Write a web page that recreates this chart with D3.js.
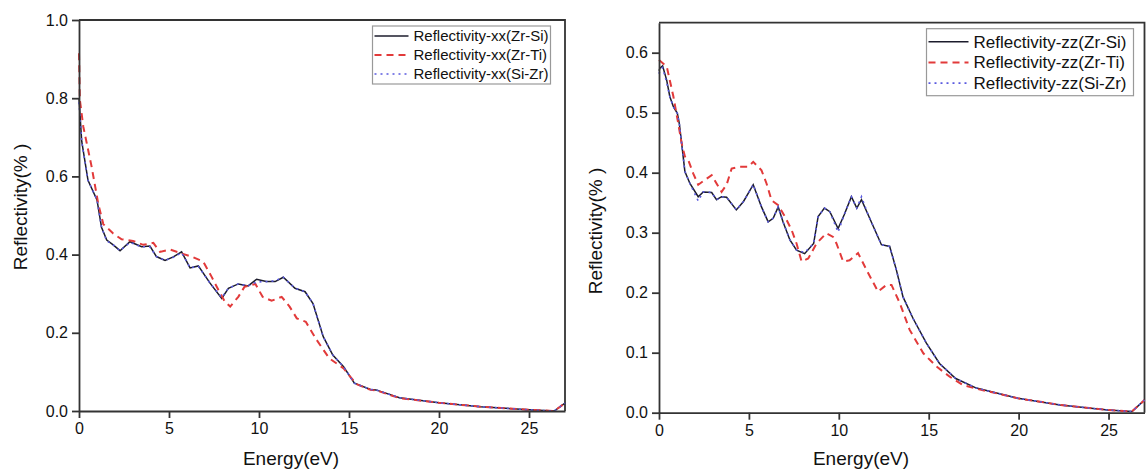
<!DOCTYPE html>
<html>
<head>
<meta charset="utf-8">
<script src="https://cdn.jsdelivr.net/npm/d3@7"></script>
<style>
  body { margin: 0; background: #fff; }
  svg { display: block; font-family: Arial, "Liberation Sans", sans-serif; }
</style>
</head>
<body>
<svg class="chart"></svg>
<script>
var width = 1146;
var height = 471;

// ---- data: reflectivity xx (left panel) ----
var xxZrSiE = [0, 0.15, 0.5, 1.0, 1.25, 1.54, 1.9, 2.28, 2.83, 3.48, 3.94, 4.3, 4.78, 5.24, 5.7, 6.17, 6.63, 7.28, 7.93, 8.3, 8.85, 9.4, 9.87, 10.4, 10.9, 11.35, 12.0, 12.56, 13.0, 13.57, 14.1, 14.7, 15.3, 16.2, 16.5, 17.8, 20, 22.3, 25, 26.4, 27];
var xxZrSiR = [0.80, 0.69, 0.59, 0.54, 0.47, 0.437, 0.425, 0.41, 0.433, 0.42, 0.422, 0.395, 0.385, 0.394, 0.407, 0.366, 0.371, 0.327, 0.288, 0.314, 0.325, 0.32, 0.337, 0.331, 0.331, 0.342, 0.314, 0.305, 0.275, 0.19, 0.143, 0.113, 0.071, 0.055, 0.054, 0.034, 0.021, 0.011, 0.003, 0.0, 0.02];

var xxZrTiE = [0, 0.05, 0.24, 0.7, 1.07, 1.35, 1.9, 2.37, 3.0, 3.57, 4.13, 4.5, 5.06, 5.7, 6.35, 6.9, 7.37, 7.74, 8.1, 8.4, 8.85, 9.2, 9.8, 10.2, 10.7, 11.26, 11.7, 12.1, 12.6, 13.2, 13.9, 14.7, 15.4, 16.2, 16.5, 17.8, 20, 22.3, 25, 26.4, 27];
var xxZrTiR = [0.915, 0.795, 0.727, 0.625, 0.53, 0.478, 0.454, 0.439, 0.435, 0.425, 0.43, 0.407, 0.413, 0.403, 0.393, 0.382, 0.343, 0.31, 0.28, 0.267, 0.292, 0.318, 0.325, 0.292, 0.282, 0.292, 0.267, 0.237, 0.228, 0.182, 0.135, 0.109, 0.069, 0.054, 0.053, 0.033, 0.021, 0.011, 0.003, 0.0, 0.02];

var xxSiZrE = [0, 0.15, 0.5, 1.0, 1.25, 1.54, 1.9, 2.28, 2.83, 3.48, 3.94, 4.3, 4.78, 5.24, 5.7, 6.17, 6.63, 7.28, 7.93, 8.3, 8.85, 9.4, 9.87, 10.4, 10.9, 11.35, 12.0, 12.56, 13.0, 13.57, 14.1, 14.7, 15.3, 16.2, 16.5, 17.8, 20, 22.3, 25, 26.4, 27];
var xxSiZrR = [0.79, 0.69, 0.59, 0.54, 0.47, 0.435, 0.425, 0.41, 0.431, 0.42, 0.42, 0.395, 0.385, 0.393, 0.405, 0.366, 0.37, 0.327, 0.29, 0.314, 0.325, 0.32, 0.33, 0.331, 0.333, 0.342, 0.314, 0.305, 0.275, 0.19, 0.143, 0.113, 0.071, 0.055, 0.054, 0.034, 0.021, 0.011, 0.003, 0.0, 0.02];

// ---- data: reflectivity zz (right panel) ----
var zzZrSiE = [0, 0.05, 0.2, 0.43, 0.6, 0.8, 1.02, 1.13, 1.26, 1.44, 1.72, 2.18, 2.46, 2.93, 3.2, 3.48, 3.76, 4.3, 4.7, 5.24, 5.7, 6.07, 6.35, 6.63, 6.9, 7.28, 7.65, 8.1, 8.6, 8.85, 9.2, 9.5, 9.96, 10.3, 10.7, 11.0, 11.26, 11.63, 12.0, 12.37, 12.83, 13.2, 13.57, 14.13, 14.87, 15.6, 16.5, 17.65, 19.96, 22.3, 24.96, 26.3, 27];
var zzZrSiR = [0.57, 0.574, 0.578, 0.554, 0.527, 0.51, 0.499, 0.482, 0.449, 0.402, 0.382, 0.36, 0.368, 0.367, 0.355, 0.36, 0.359, 0.338, 0.352, 0.38, 0.343, 0.318, 0.324, 0.343, 0.318, 0.288, 0.271, 0.265, 0.282, 0.327, 0.341, 0.335, 0.307, 0.33, 0.36, 0.341, 0.355, 0.33, 0.305, 0.28, 0.277, 0.238, 0.193, 0.157, 0.116, 0.082, 0.057, 0.041, 0.024, 0.013, 0.0045, 0.002, 0.021];

var zzZrTiE = [0, 0.43, 0.8, 1.07, 1.26, 1.44, 1.63, 1.9, 2.18, 2.56, 2.93, 3.2, 3.48, 3.76, 4.04, 4.5, 4.96, 5.24, 5.7, 5.98, 6.26, 6.63, 7.0, 7.37, 7.65, 7.93, 8.3, 8.76, 9.3, 9.68, 9.87, 10.24, 10.6, 11.07, 11.54, 12.18, 12.65, 12.93, 13.4, 13.94, 14.7, 15.43, 16.17, 16.9, 17.65, 19.96, 22.3, 24.96, 26.3, 27];
var zzZrTiR = [0.588, 0.577, 0.527, 0.482, 0.449, 0.427, 0.421, 0.399, 0.38, 0.388, 0.396, 0.382, 0.368, 0.38, 0.407, 0.41, 0.41, 0.418, 0.404, 0.382, 0.354, 0.346, 0.327, 0.305, 0.282, 0.252, 0.257, 0.282, 0.299, 0.293, 0.282, 0.252, 0.254, 0.266, 0.238, 0.202, 0.213, 0.213, 0.182, 0.138, 0.099, 0.077, 0.06, 0.046, 0.04, 0.024, 0.013, 0.0045, 0.002, 0.021];

var zzSiZrE = [0, 0.05, 0.2, 0.43, 0.6, 0.8, 1.02, 1.13, 1.26, 1.44, 1.72, 2.18, 2.46, 2.93, 3.2, 3.48, 3.76, 4.3, 4.7, 5.24, 5.7, 6.07, 6.35, 6.63, 6.9, 7.28, 7.65, 8.1, 8.6, 8.85, 9.2, 9.5, 9.96, 10.3, 10.7, 11.0, 11.26, 11.63, 12.0, 12.37, 12.83, 13.2, 13.57, 14.13, 14.87, 15.6, 16.5, 17.65, 19.96, 22.3, 24.96, 26.3, 27];
var zzSiZrR = [0.565, 0.57, 0.575, 0.55, 0.527, 0.51, 0.499, 0.482, 0.449, 0.402, 0.382, 0.353, 0.368, 0.367, 0.355, 0.36, 0.359, 0.338, 0.352, 0.38, 0.343, 0.318, 0.324, 0.343, 0.318, 0.288, 0.271, 0.267, 0.282, 0.327, 0.341, 0.335, 0.301, 0.33, 0.36, 0.341, 0.36, 0.33, 0.305, 0.28, 0.277, 0.238, 0.193, 0.157, 0.116, 0.082, 0.057, 0.041, 0.024, 0.013, 0.0045, 0.002, 0.021];

var xTicks = [0, 5, 10, 15, 20, 25];
var xxTicks = [0.0, 0.2, 0.4, 0.6, 0.8, 1.0];
var zzTicks = [0.0, 0.1, 0.2, 0.3, 0.4, 0.5, 0.6];
var xxNames = ['Reflectivity-xx(Zr-Si)', 'Reflectivity-xx(Zr-Ti)', 'Reflectivity-xx(Si-Zr)'];
var zzNames = ['Reflectivity-zz(Zr-Si)', 'Reflectivity-zz(Zr-Ti)', 'Reflectivity-zz(Si-Zr)'];

var styles = [
  {color: '#1c1c2c', dash: null, w: 1.5},
  {color: '#e23a3a', dash: '7,5', w: 2},
  {color: '#5a5ae0', dash: '2,4', w: 1.6}
];

var chart = d3.select('.chart').attr('width', width).attr('height', height);

var zip = function(es, rs){
  return es.map(function(e, i){ return {e: e, r: rs[i]}; });
};

var drawPanel = function(p){
  var x = d3.scaleLinear().domain([0, 27]).range([p.left, p.right]);
  var y = d3.scaleLinear().domain([0, p.ymax]).range([p.bottom, p.top]);
  var g = chart.append('g');

  // frame (top + right)
  g.append('path')
    .attr('d', 'M' + x(0) + ',' + y(p.ymax) + 'H' + x(27) + 'V' + y(0))
    .attr('fill', 'none').attr('stroke', '#333').attr('stroke-width', 1.8);

  var line = d3.line()
    .x(function(d){ return x(d.e); })
    .y(function(d){ return y(d.r); });

  p.series.forEach(function(s, i){
    g.append('path')
      .datum(zip(s[0], s[1]))
      .attr('d', line)
      .attr('fill', 'none')
      .attr('stroke', styles[i].color)
      .attr('stroke-width', styles[i].w)
      .attr('stroke-dasharray', styles[i].dash);
  });

  // axes
  var ax = g.append('g')
    .attr('transform', 'translate(0,' + y(0) + ')')
    .call(d3.axisBottom(x).tickValues(xTicks).tickSize(7).tickSizeOuter(0).tickPadding(5));
  var ay = g.append('g')
    .attr('transform', 'translate(' + x(0) + ',0)')
    .call(d3.axisLeft(y).tickValues(p.ticks).tickFormat(d3.format('.1f')).tickSize(7).tickSizeOuter(0).tickPadding(4));
  [ax, ay].forEach(function(a){
    a.selectAll('path, line').attr('stroke', '#333').attr('stroke-width', 1.8);
    a.selectAll('text').attr('fill', '#111').style('font-size', '16px');
  });

  g.append('text')
    .attr('x', p.xlabX).attr('y', 465)
    .attr('text-anchor', 'middle')
    .style('font-size', '19px').attr('fill', '#111')
    .text('Energy(eV)');
  g.append('text')
    .attr('transform', 'translate(' + p.ylabX + ',' + p.ylabY + ') rotate(-90)')
    .attr('text-anchor', 'middle')
    .style('font-size', '19px').attr('fill', '#111')
    .text('Reflectivity(% )');

  // legend
  var lg = g.append('g');
  lg.append('rect')
    .attr('x', p.leg.x).attr('y', p.leg.y)
    .attr('width', p.leg.w).attr('height', p.leg.h)
    .attr('fill', '#fff').attr('stroke', '#999').attr('stroke-width', 1.2);
  p.names.forEach(function(n, i){
    var cy = p.leg.y + p.leg.first + i * p.leg.step;
    lg.append('line')
      .attr('x1', p.leg.x + 2).attr('x2', p.leg.x + p.leg.len)
      .attr('y1', cy).attr('y2', cy)
      .attr('stroke', styles[i].color)
      .attr('stroke-width', styles[i].w)
      .attr('stroke-dasharray', styles[i].dash);
    lg.append('text')
      .attr('x', p.leg.x + p.leg.len + 5).attr('y', cy)
      .attr('dy', '0.35em')
      .style('font-size', p.leg.font + 'px').attr('fill', '#111')
      .text(n);
  });
};

drawPanel({
  left: 79, right: 565, top: 20, bottom: 411, ymax: 1.0, ticks: xxTicks,
  series: [[xxZrSiE, xxZrSiR], [xxZrTiE, xxZrTiR], [xxSiZrE, xxSiZrR]],
  names: xxNames, xlabX: 291, ylabX: 27, ylabY: 207,
  leg: {x: 372.5, y: 26, w: 178, h: 58, first: 10, step: 19, len: 36, font: 15}
});

drawPanel({
  left: 659, right: 1144.5, top: 22.7, bottom: 412.7, ymax: 0.65, ticks: zzTicks,
  series: [[zzZrSiE, zzZrSiR], [zzZrTiE, zzZrTiR], [zzSiZrE, zzSiZrR]],
  names: zzNames, xlabX: 861, ylabX: 602, ylabY: 231,
  leg: {x: 926.5, y: 28.7, w: 207, h: 67, first: 13, step: 20.7, len: 42, font: 17}
});
</script>
</body>
</html>
